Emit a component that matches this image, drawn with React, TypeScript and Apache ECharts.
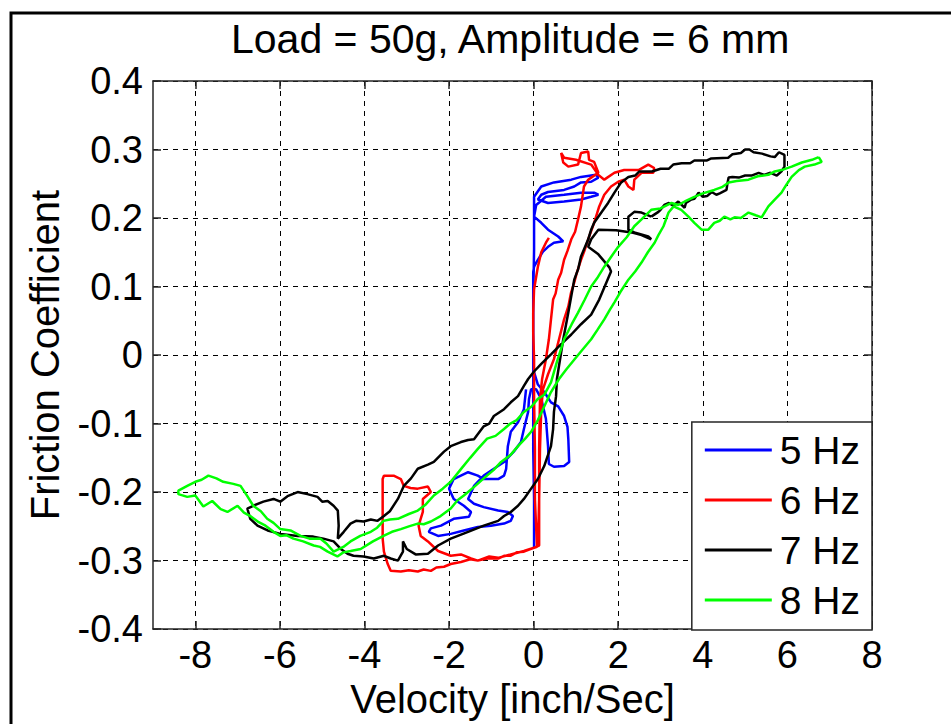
import React, { useEffect, useRef } from 'react';
import * as echarts from 'echarts';

const TITLE = 'Load = 50g, Amplitude = 6 mm';
const X_NAME = 'Velocity [inch/Sec]';
const Y_NAME = 'Friction Coefficient';
const SERIES_NAMES = ['5 Hz', '6 Hz', '7 Hz', '8 Hz'];
const SERIES_COLORS = ['#0000ff', '#ff0000', '#000000', '#00ff00'];
const X_TICKS = [-8, -6, -4, -2, 0, 2, 4, 6, 8];

// 5 Hz
const hz5: number[][] = [
  [0.01, -0.28], [0.01, -0.21], [-0.01, -0.137], [-0.01, -0.064], [-0.01, 0.009], [-0.01, 0.081],
  [0.01, 0.154], [0.01, 0.202], [0.01, 0.231], [0.18, 0.246], [0.48, 0.252], [0.89, 0.256],
  [1.12, 0.26], [1.48, 0.263], [1.53, 0.259], [1.36, 0.253], [1.12, 0.252], [0.96, 0.246],
  [0.72, 0.241], [0.34, 0.238], [0.18, 0.234], [0.1, 0.227], [0.34, 0.222], [0.72, 0.224],
  [1.12, 0.227], [1.36, 0.231], [1.53, 0.234], [1.43, 0.237], [1.12, 0.237], [0.72, 0.234],
  [0.29, 0.231], [0.06, 0.219], [0.01, 0.202], [0.18, 0.193], [0.34, 0.183], [0.58, 0.173],
  [0.7, 0.166], [0.48, 0.164], [0.34, 0.158], [0.22, 0.151], [0.1, 0.139], [0.01, 0.129],
  [-0.01, 0.121], [-0.01, 0.052], [-0.01, -0.021], [0.1, -0.043], [0.25, -0.054], [0.41, -0.069],
  [0.58, -0.075], [0.72, -0.089], [0.8, -0.105], [0.82, -0.123], [0.84, -0.156], [0.72, -0.162],
  [0.48, -0.163], [0.36, -0.159], [0.34, -0.133], [0.29, -0.093], [0.18, -0.064], [0.06, -0.05],
  [-0.06, -0.05], [-0.11, -0.064], [-0.13, -0.083], [-0.23, -0.108], [-0.3, -0.127], [-0.47, -0.141],
  [-0.7, -0.156], [-0.94, -0.166], [-1.18, -0.176], [-1.41, -0.191], [-1.55, -0.21], [-1.41, -0.217],
  [-1.18, -0.222], [-0.84, -0.227], [-0.61, -0.229], [-0.49, -0.235], [-0.54, -0.242], [-0.7, -0.246],
  [-1.01, -0.249], [-1.32, -0.251], [-1.65, -0.256], [-1.96, -0.261], [-2.26, -0.264], [-2.48, -0.258],
  [-2.43, -0.253], [-2.19, -0.249], [-1.89, -0.239], [-1.53, -0.236], [-1.48, -0.229], [-1.65, -0.22],
  [-1.89, -0.21], [-2.0, -0.195], [-1.89, -0.181], [-1.55, -0.171], [-1.32, -0.176], [-1.18, -0.181],
  [-0.84, -0.181], [-0.7, -0.176], [-0.65, -0.166], [-0.61, -0.133], [-0.54, -0.112], [-0.37, -0.098],
  [-0.23, -0.079], [-0.18, -0.05],
];

// 6 Hz
const hz6: number[][] = [
  [0.36, 0.171], [0.29, 0.164], [0.18, 0.15], [0.1, 0.129], [0.01, 0.096], [-0.01, 0.062],
  [-0.01, 0.033], [0.01, -0.006], [0.01, -0.064], [0.03, -0.137], [0.03, -0.21], [0.06, -0.253],
  [0.08, -0.28], [-0.06, -0.283], [-0.23, -0.287], [-0.4, -0.288], [-0.54, -0.293], [-0.7, -0.293],
  [-0.84, -0.297], [-1.1, -0.297], [-1.32, -0.3], [-1.5, -0.298], [-1.72, -0.302], [-1.96, -0.305],
  [-2.12, -0.309], [-2.3, -0.31], [-2.43, -0.315], [-2.6, -0.313], [-2.74, -0.316], [-2.95, -0.314],
  [-3.14, -0.316], [-3.38, -0.315], [-3.45, -0.305], [-3.54, -0.287], [-3.57, -0.268], [-3.57, -0.239],
  [-3.57, -0.21], [-3.57, -0.181], [-3.54, -0.176], [-3.31, -0.176], [-3.14, -0.181], [-3.07, -0.191],
  [-2.91, -0.194], [-2.74, -0.195], [-2.5, -0.192], [-2.43, -0.2], [-2.62, -0.21], [-2.62, -0.229],
  [-2.72, -0.249], [-2.67, -0.264], [-2.5, -0.272], [-2.26, -0.286], [-1.96, -0.293], [-1.72, -0.291],
  [-1.48, -0.297], [-1.32, -0.3], [-1.05, -0.294], [-0.84, -0.296], [-0.54, -0.291], [-0.23, -0.286],
  [0.01, -0.281], [0.13, -0.278], [0.13, -0.21], [0.13, -0.137], [0.15, -0.064], [0.2, -0.035],
  [0.29, -0.006], [0.36, 0.023], [0.41, 0.052], [0.46, 0.081], [0.52, 0.09], [0.58, 0.11],
  [0.65, 0.12], [0.72, 0.139], [0.8, 0.152], [0.89, 0.169], [0.98, 0.18], [1.05, 0.198],
  [1.12, 0.217], [1.19, 0.246], [1.29, 0.256], [1.36, 0.259], [1.53, 0.266], [1.43, 0.282],
  [1.31, 0.285], [1.29, 0.297], [1.12, 0.295], [1.05, 0.278], [0.82, 0.275], [0.7, 0.281],
  [0.65, 0.295], [0.72, 0.288], [1.0, 0.285], [1.36, 0.278], [1.53, 0.263], [1.67, 0.256],
  [1.91, 0.266], [2.14, 0.27], [2.48, 0.27], [2.71, 0.278], [2.85, 0.273], [2.83, 0.266],
  [2.55, 0.266], [2.38, 0.256], [2.36, 0.241], [2.24, 0.246], [2.14, 0.256], [2.0, 0.253],
  [1.83, 0.246], [1.67, 0.234], [1.55, 0.217], [1.43, 0.193], [1.29, 0.169], [1.2, 0.152],
  [1.12, 0.139], [1.02, 0.12], [0.96, 0.106], [0.88, 0.09], [0.82, 0.071], [0.72, 0.052],
  [0.6, 0.023], [0.48, -0.006], [0.34, -0.028], [0.22, -0.05], [0.18, -0.079], [0.15, -0.137],
  [0.13, -0.21], [0.1, -0.28],
];

// 7 Hz
const hz7: number[][] = [
  [2.78, 0.202], [2.55, 0.208], [2.38, 0.209], [2.24, 0.202], [2.24, 0.183], [2.38, 0.179],
  [2.71, 0.173], [2.78, 0.169], [2.55, 0.175], [2.31, 0.179], [1.95, 0.182], [1.53, 0.183],
  [1.36, 0.169], [1.29, 0.158], [1.53, 0.147], [1.79, 0.128], [1.83, 0.122], [1.72, 0.106],
  [1.55, 0.081], [1.36, 0.059], [1.12, 0.045], [0.89, 0.03], [0.65, 0.016], [0.41, 0.001],
  [0.18, -0.013], [0.01, -0.024], [-0.13, -0.035], [-0.23, -0.045], [-0.37, -0.06], [-0.54, -0.069],
  [-0.7, -0.079], [-0.94, -0.089], [-1.05, -0.1], [-1.18, -0.104], [-1.41, -0.123], [-1.55, -0.124],
  [-1.72, -0.127], [-1.96, -0.133], [-2.12, -0.141], [-2.36, -0.156], [-2.5, -0.16], [-2.74, -0.166],
  [-2.9, -0.18], [-3.07, -0.191], [-3.21, -0.21], [-3.4, -0.228], [-3.54, -0.235], [-3.69, -0.242],
  [-3.85, -0.24], [-4.02, -0.243], [-4.2, -0.242], [-4.33, -0.246], [-4.49, -0.258], [-4.63, -0.268],
  [-4.61, -0.249], [-4.63, -0.227], [-4.73, -0.22], [-4.87, -0.213], [-5.0, -0.214], [-5.11, -0.207],
  [-5.35, -0.203], [-5.58, -0.2], [-5.82, -0.206], [-5.99, -0.214], [-6.15, -0.21], [-6.39, -0.214],
  [-6.63, -0.22], [-6.77, -0.224], [-6.7, -0.239], [-6.53, -0.249], [-6.29, -0.256], [-5.99, -0.261],
  [-5.58, -0.264], [-5.21, -0.265], [-4.97, -0.268], [-4.73, -0.272], [-4.56, -0.283], [-4.4, -0.29],
  [-4.26, -0.293], [-4.02, -0.294], [-3.78, -0.297], [-3.54, -0.293], [-3.38, -0.297], [-3.21, -0.3],
  [-3.09, -0.287], [-3.09, -0.272], [-3.0, -0.283], [-2.79, -0.291], [-2.5, -0.29], [-2.26, -0.278],
  [-1.96, -0.268], [-1.55, -0.258], [-1.18, -0.249], [-0.84, -0.242], [-0.7, -0.235], [-0.54, -0.229],
  [-0.37, -0.22], [-0.23, -0.21], [-0.06, -0.195], [0.1, -0.181], [0.25, -0.162], [0.41, -0.133],
  [0.46, -0.108], [0.48, -0.083], [0.53, -0.06], [0.55, -0.035], [0.7, 0.023], [0.82, 0.062],
  [0.89, 0.086], [0.96, 0.11], [1.05, 0.125], [1.12, 0.144], [1.29, 0.169], [1.36, 0.183],
  [1.43, 0.193], [1.6, 0.208], [1.76, 0.222], [1.91, 0.237], [2.07, 0.252], [2.24, 0.26],
  [2.4, 0.262], [2.5, 0.268], [2.8, 0.268], [3.0, 0.272], [3.2, 0.272], [3.3, 0.278],
  [3.5, 0.28], [3.7, 0.28], [3.8, 0.284], [4.1, 0.284], [4.2, 0.287], [4.6, 0.288],
  [4.7, 0.293], [4.9, 0.295], [5.0, 0.3], [5.1, 0.3], [5.2, 0.296], [5.4, 0.294],
  [5.6, 0.29], [5.7, 0.289], [5.8, 0.296], [5.93, 0.292], [5.93, 0.275], [5.86, 0.268],
  [5.75, 0.262], [5.6, 0.266], [5.45, 0.263], [5.32, 0.266], [5.15, 0.262], [5.0, 0.262],
  [4.85, 0.259], [4.7, 0.26], [4.61, 0.259], [4.58, 0.25], [4.56, 0.241], [4.4, 0.236],
  [4.32, 0.234], [4.21, 0.238], [4.1, 0.232], [4.0, 0.231], [3.9, 0.237], [3.8, 0.228],
  [3.73, 0.227], [3.6, 0.222], [3.57, 0.215], [3.42, 0.224], [3.3, 0.218], [3.2, 0.222],
  [3.09, 0.219], [3.0, 0.212], [2.95, 0.209], [2.78, 0.202],
];

// 8 Hz
const hz8: number[][] = [
  [6.74, 0.289], [6.58, 0.285], [6.34, 0.281], [6.1, 0.275], [5.86, 0.27], [5.7, 0.268],
  [5.55, 0.263], [5.3, 0.261], [5.08, 0.256], [4.8, 0.254], [4.61, 0.252], [4.45, 0.245],
  [4.27, 0.241], [4.0, 0.236], [3.8, 0.231], [3.6, 0.225], [3.42, 0.219], [3.26, 0.222],
  [3.0, 0.214], [2.78, 0.212], [2.55, 0.198], [2.38, 0.188], [2.2, 0.172], [2.0, 0.158],
  [1.85, 0.145], [1.67, 0.129], [1.5, 0.112], [1.36, 0.1], [1.2, 0.08], [1.05, 0.062],
  [0.9, 0.045], [0.72, 0.023], [0.55, -0.01], [0.41, -0.04], [0.25, -0.058], [0.1, -0.064],
  [-0.05, -0.075], [-0.23, -0.083], [-0.4, -0.095], [-0.55, -0.1], [-0.7, -0.108], [-0.9, -0.118],
  [-1.1, -0.122], [-1.32, -0.137], [-1.5, -0.15], [-1.7, -0.165], [-1.96, -0.185], [-2.15, -0.195],
  [-2.36, -0.205], [-2.55, -0.218], [-2.74, -0.227], [-2.95, -0.232], [-3.21, -0.239], [-3.4, -0.24],
  [-3.55, -0.242], [-3.7, -0.252], [-3.85, -0.258], [-4.1, -0.264], [-4.33, -0.272], [-4.5, -0.28],
  [-4.73, -0.287], [-4.9, -0.275], [-5.04, -0.268], [-5.3, -0.268], [-5.51, -0.264], [-5.75, -0.256],
  [-5.99, -0.254], [-6.15, -0.245], [-6.3, -0.239], [-6.45, -0.228], [-6.63, -0.22], [-6.77, -0.206],
  [-6.93, -0.191], [-7.1, -0.188], [-7.34, -0.185], [-7.5, -0.18], [-7.69, -0.176], [-7.85, -0.182],
  [-8.0, -0.185], [-8.19, -0.191], [-8.4, -0.198], [-8.4, -0.203], [-8.19, -0.207], [-8.0, -0.205],
  [-7.81, -0.221], [-7.6, -0.213], [-7.4, -0.225], [-7.24, -0.229], [-7.0, -0.22], [-6.85, -0.23],
  [-6.7, -0.235], [-6.5, -0.244], [-6.34, -0.249], [-6.15, -0.258], [-5.99, -0.264], [-5.85, -0.263],
  [-5.68, -0.268], [-5.45, -0.272], [-5.2, -0.278], [-5.05, -0.28], [-4.87, -0.287], [-4.64, -0.294],
  [-4.5, -0.288], [-4.33, -0.286], [-4.09, -0.283], [-3.8, -0.272], [-3.55, -0.264], [-3.35, -0.258],
  [-3.14, -0.254], [-2.95, -0.25], [-2.74, -0.246], [-2.6, -0.247], [-2.43, -0.243], [-2.2, -0.235],
  [-1.96, -0.224], [-1.8, -0.212], [-1.65, -0.205], [-1.4, -0.192], [-1.18, -0.18], [-0.95, -0.168],
  [-0.77, -0.156], [-0.55, -0.146], [-0.37, -0.133], [-0.2, -0.122], [-0.06, -0.112], [0.1, -0.095],
  [0.25, -0.075], [0.41, -0.054], [0.6, -0.035], [0.77, -0.021], [1.05, 0.0], [1.36, 0.023],
  [1.5, 0.036], [1.67, 0.052], [1.8, 0.066], [1.91, 0.077], [2.05, 0.092], [2.24, 0.11],
  [2.4, 0.122], [2.55, 0.135], [2.7, 0.15], [2.86, 0.164], [2.95, 0.175], [3.07, 0.188],
  [3.19, 0.208], [3.31, 0.217], [3.49, 0.212], [3.66, 0.202], [3.8, 0.193], [3.97, 0.183],
  [4.13, 0.183], [4.27, 0.193], [4.4, 0.196], [4.51, 0.202], [4.65, 0.198], [4.75, 0.201],
  [4.9, 0.2], [5.08, 0.208], [5.25, 0.204], [5.39, 0.201], [5.55, 0.217], [5.7, 0.227],
  [5.86, 0.237], [5.98, 0.249], [6.1, 0.26], [6.27, 0.27], [6.41, 0.275], [6.64, 0.278],
  [6.81, 0.282], [6.74, 0.289],
];

const SERIES_DATA = [hz5, hz6, hz7, hz8];

const FONT = '"Liberation Sans", Arial, Helvetica, sans-serif';
const AXIS_COLOR = '#262626';

function yLabel(v: number): string {
  if (Math.abs(v) < 1e-9) return '0';
  return v.toFixed(1);
}

export default function App() {
  const ref = useRef<HTMLDivElement>(null);
  useEffect(() => {
    if (!ref.current) return;
    const chart = echarts.init(ref.current, null, { renderer: 'svg' });
    const axisLine = { show: true, onZero: false, lineStyle: { color: AXIS_COLOR, width: 1.5 } };
    const tickStyle = { color: AXIS_COLOR, width: 1.5 };
    chart.setOption({
      animation: false,
      backgroundColor: '#ffffff',
      textStyle: { fontFamily: FONT },
      title: {
        text: TITLE,
        left: 231,
        top: 18,
        padding: 0,
        textStyle: { fontSize: 41, fontWeight: 'normal', color: '#000', fontFamily: FONT },
      },
      graphic: [
        {
          type: 'rect',
          shape: { x: 11, y: 13, width: 1500, height: 1500 },
          style: { fill: 'none', stroke: '#000', lineWidth: 3 },
          silent: true,
        },
      ],
      grid: { left: 153, right: 79, top: 81, bottom: 93 },
      legend: {
        data: SERIES_NAMES,
        orient: 'vertical',
        right: 79,
        bottom: 94,
        backgroundColor: '#ffffff',
        borderColor: AXIS_COLOR,
        borderWidth: 1.5,
        borderRadius: 0,
        padding: [8, 12, 10, 13],
        itemGap: 10,
        itemWidth: 67,
        itemHeight: 3,
        icon: 'rect',
        textStyle: { fontSize: 39, lineHeight: 40, color: '#000', fontFamily: FONT, padding: [0, 0, 0, 3] },
      },
      xAxis: [
        {
          type: 'value', min: -9, max: 8, interval: 1, position: 'bottom',
          axisLine,
          axisTick: { show: true, inside: true, length: 8, customValues: X_TICKS, lineStyle: tickStyle },
          axisLabel: { customValues: X_TICKS, color: '#000', fontSize: 38, fontFamily: FONT, margin: 7 },
          splitLine: { show: true, lineStyle: { color: '#000', type: [5, 5], width: 1 } },
          name: X_NAME, nameLocation: 'middle', nameGap: 45,
          nameTextStyle: { fontSize: 40, color: '#000', fontFamily: FONT },
        },
        {
          type: 'value', min: -9, max: 8, interval: 1, position: 'top',
          axisLine,
          axisTick: { show: true, inside: true, length: 8, customValues: X_TICKS, lineStyle: tickStyle },
          axisLabel: { show: false },
          splitLine: { show: false },
        },
      ],
      yAxis: [
        {
          type: 'value', min: -0.4, max: 0.4, interval: 0.1, position: 'left',
          axisLine,
          axisTick: { show: true, inside: true, length: 8, lineStyle: tickStyle },
          axisLabel: { color: '#000', fontSize: 38, fontFamily: FONT, margin: 10, formatter: yLabel },
          splitLine: { show: true, lineStyle: { color: '#000', type: [5, 5], width: 1 } },
          name: Y_NAME, nameLocation: 'middle', nameGap: 88,
          nameTextStyle: { fontSize: 40, color: '#000', fontFamily: FONT },
        },
        {
          type: 'value', min: -0.4, max: 0.4, interval: 0.1, position: 'right',
          axisLine,
          axisTick: { show: true, inside: true, length: 8, lineStyle: tickStyle },
          axisLabel: { show: false },
          splitLine: { show: false },
        },
      ],
      series: SERIES_NAMES.map((name, i) => ({
        name,
        type: 'line',
        xAxisIndex: 0,
        yAxisIndex: 0,
        data: SERIES_DATA[i],
        showSymbol: false,
        symbol: 'none',
        color: SERIES_COLORS[i],
        lineStyle: { color: SERIES_COLORS[i], width: 2.5 },
        clip: true,
      })),
    });
    return () => chart.dispose();
  }, []);
  return (
    <div
      ref={ref}
      style={{ position: 'fixed', left: 0, top: 0, width: 951, height: 724, background: '#fff' }}
    />
  );
}
